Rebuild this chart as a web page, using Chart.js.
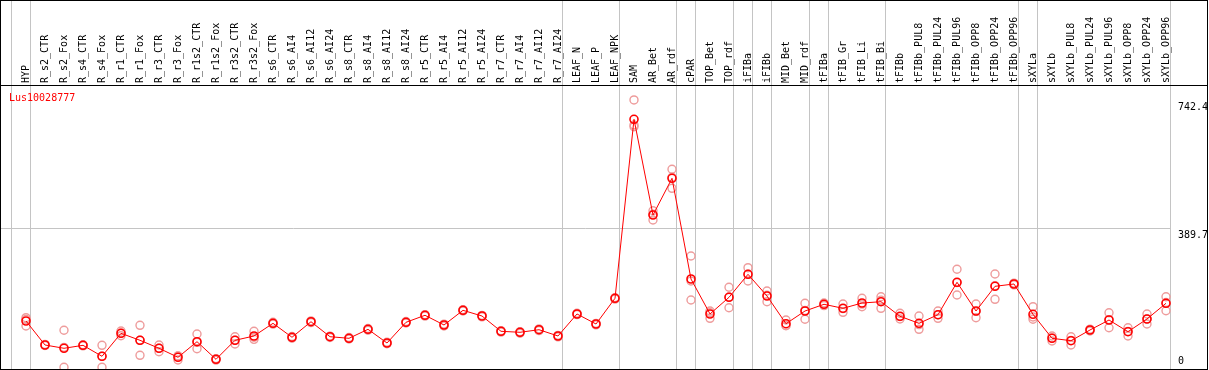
<!DOCTYPE html>
<html>
<head>
<meta charset="utf-8">
<script src="https://cdn.jsdelivr.net/npm/chart.js@4"></script>
<style>
  html, body { margin: 0; padding: 0; background: #fff; }
  #wrap { width: 1209px; height: 370px; }
</style>
</head>
<body>
<div id="wrap"><canvas id="chart" width="1209" height="370"></canvas></div>
<script>
// --- data ---
const seriesName = 'Lus10028777';

const categories = [
  'HYP', 'R_s2_CTR', 'R_s2_Fox', 'R_s4_CTR', 'R_s4_Fox', 'R_r1_CTR', 'R_r1_Fox',
  'R_r3_CTR', 'R_r3_Fox', 'R_r1s2_CTR', 'R_r1s2_Fox', 'R_r3s2_CTR', 'R_r3s2_Fox',
  'R_s6_CTR', 'R_s6_AI4', 'R_s6_AI12', 'R_s6_AI24', 'R_s8_CTR', 'R_s8_AI4',
  'R_s8_AI12', 'R_s8_AI24', 'R_r5_CTR', 'R_r5_AI4', 'R_r5_AI12', 'R_r5_AI24',
  'R_r7_CTR', 'R_r7_AI4', 'R_r7_AI12', 'R_r7_AI24', 'LEAF_N', 'LEAF_P', 'LEAF_NPK',
  'SAM', 'AR_Bet', 'AR_rdf', 'cPAR', 'TOP_Bet', 'TOP_rdf', 'iFIBa', 'iFIBb',
  'MID_Bet', 'MID_rdf', 'tFIBa', 'tFIB_Gr', 'tFIB_Li', 'tFIB_Bi', 'tFIBb',
  'tFIBb_PUL8', 'tFIBb_PUL24', 'tFIBb_PUL96', 'tFIBb_OPP8', 'tFIBb_OPP24', 'tFIBb_OPP96',
  'sXYLa', 'sXYLb', 'sXYLb_PUL8', 'sXYLb_PUL24', 'sXYLb_PUL96', 'sXYLb_OPP8',
  'sXYLb_OPP24', 'sXYLb_OPP96'
];

const meanValues = [
  133.6, 67.5, 58.4, 66.6, 36.4, 99.7, 80.4, 58.4, 33.6, 76.6, 28.1, 80.4, 92.3,
  127.2, 88.7, 131.6, 90.3, 85.9, 110.7, 73.0, 130.0, 149.3, 122.6, 163.0, 147.3,
  105.2, 102.5, 109.6, 92.3, 152.9, 125.3, 196.1,
  689.1, 425.5, 526.6, 249.2, 152.9, 198.8, 262.2, 202.4, 126.1, 161.1,
  179.6, 168.5, 183.1, 186.7, 146.5, 127.2, 150.9, 240.2, 161.1, 229.1, 235.5,
  152.0, 85.9, 79.3, 108.8, 136.3, 104.1, 139.1, 182.3
];

const rep1 = [
  142.7, 69, 108, 68, 66.6, 106, 121.7, 67.5, 37.2, 97.8, 30, 90.3, 105.2,
  130, 91, 134, 92, 88, 113, 75, 132, 151, 125, 165, 149,
  107, 104, 112, 94, 155, 127, 198,
  742.4, 437.3, 551.4, 312.6, 161.1, 226.4, 280.4, 216.2, 136.3, 182.3,
  183, 180.4, 196.1, 200.5, 154.8, 147.3, 161.1, 276, 180.4, 263, 238,
  173, 92.3, 90.3, 111, 156.4, 115.1, 152.9, 200.5
];
const rep2 = [
  119.8, 66, 6.1, 65, 6.1, 93, 39.1, 49, 26.2, 57.3, 26, 70.2, 88.7,
  125, 86, 129, 88, 84, 108, 71, 128, 147, 120, 161, 145,
  103, 100, 107, 90, 151, 123, 194,
  668.7, 411.7, 499, 191.4, 141, 170.2, 243.7, 186.7, 120.6, 138.3,
  176, 157.5, 173, 168.5, 139, 110.7, 141, 205.2, 142.7, 193.3, 233,
  138.3, 78.5, 67.5, 106, 115.1, 92.3, 125.3, 161.9
];
const rep3 = [
  138, 67.5, 61, 67, 36.5, 100, 80.4, 58.7, 37.4, 74.7, 28.3, 80.7, 83,
  126.6, 89, 131.8, 90.9, 85.7, 111.1, 73, 130, 149.9, 122.8, 163, 147.9,
  105.6, 103.5, 109.8, 92.9, 152.7, 125.9, 196.3,
  673.4, 427.5, 529.4, 243.6, 156.6, 199.8, 262.5, 204.3, 121.4, 162.7,
  179.8, 167.6, 180.2, 191.1, 145.7, 123.6, 150.6, 239.4, 160.2, 231, 235.5,
  144.7, 86.9, 80.1, 109.4, 137.4, 104.9, 139.1, 184.5
];

const yTickValues = [0, 389.7, 742.4];
// a grey separator sits before these category indices
const groupBreaks = [0, 1, 29, 32, 35, 36, 38, 39, 40, 42, 43, 46, 53, 54, 61];

// --- build datasets ---
const meanPoints = meanValues.map((v, i) => ({ x: i, y: v }));
const repPoints = [];
[rep1, rep2, rep3].forEach(rep => {
  rep.forEach((v, i) => repPoints.push({ x: i, y: v }));
});

const MONO = '"DejaVu Sans Mono", "Liberation Mono", monospace';
const SEP_OFFSET = 0.7526; // separators sit a bit left of the half-way mark

const framePlugin = {
  id: 'frame',
  beforeDraw(chart) {
    const ctx = chart.ctx;
    ctx.save();
    ctx.fillStyle = '#fff';
    ctx.fillRect(0, 0, chart.width, chart.height);
    ctx.restore();
  },
  beforeDatasetsDraw(chart) {
    const ctx = chart.ctx;
    const xs = chart.scales.x, ys = chart.scales.y;
    ctx.save();
    ctx.strokeStyle = '#c4c4c4';
    ctx.lineWidth = 1;
    // vertical group separators, full height
    groupBreaks.forEach(k => {
      const px = Math.floor(xs.getPixelForValue(k - SEP_OFFSET)) + 0.5;
      ctx.beginPath();
      ctx.moveTo(px, 0);
      ctx.lineTo(px, chart.height);
      ctx.stroke();
    });
    // horizontal grid at the middle tick
    const rightEdge = Math.floor(xs.getPixelForValue(61 - SEP_OFFSET)) + 0.5;
    const gy = Math.floor(ys.getPixelForValue(yTickValues[1])) + 0.5;
    ctx.beginPath();
    ctx.moveTo(1, gy);
    ctx.lineTo(rightEdge, gy);
    ctx.stroke();
    ctx.restore();
  },
  afterDraw(chart) {
    const ctx = chart.ctx;
    const xs = chart.scales.x, ys = chart.scales.y;
    ctx.save();
    // frame + header line
    ctx.strokeStyle = '#000';
    ctx.lineWidth = 1;
    ctx.strokeRect(0.5, 0.5, 1207, 369);
    ctx.beginPath();
    ctx.moveTo(0, 85.5);
    ctx.lineTo(1208, 85.5);
    ctx.stroke();

    // rotated category labels
    ctx.font = '10px ' + MONO;
    ctx.fillStyle = '#000';
    ctx.textAlign = 'left';
    ctx.textBaseline = 'middle';
    categories.forEach((c, i) => {
      const px = xs.getPixelForValue(i);
      ctx.save();
      ctx.translate(px + 0.5, 83);
      ctx.rotate(-Math.PI / 2);
      ctx.fillText(c, 0, 0);
      ctx.restore();
    });

    // y tick labels on the right
    const labelX = Math.floor(xs.getPixelForValue(61 - SEP_OFFSET)) + 8;
    yTickValues.forEach((v, i) => {
      const py = ys.getPixelForValue(v);
      if (i === 0) {
        ctx.textBaseline = 'bottom';
        ctx.fillText(String(v), labelX, py - 3);
      } else {
        ctx.textBaseline = 'top';
        ctx.fillText(String(v), labelX, py + 2);
      }
    });

    // series name
    ctx.fillStyle = '#ff0000';
    ctx.textBaseline = 'alphabetic';
    ctx.fillText(seriesName, 9, 101);
    ctx.restore();
  }
};

new Chart(document.getElementById('chart'), {
  type: 'line',
  data: {
    datasets: [
      {
        type: 'line',
        label: seriesName,
        data: meanPoints,
        borderColor: '#ff0000',
        borderWidth: 1,
        pointRadius: 4,
        pointBorderWidth: 1.6,
        pointBorderColor: '#ff0000',
        pointBackgroundColor: 'rgba(0,0,0,0)',
        tension: 0,
        order: 0
      },
      {
        type: 'scatter',
        label: 'replicates',
        data: repPoints,
        showLine: false,
        pointRadius: 4,
        pointBorderWidth: 1.4,
        pointBorderColor: '#ee9c9c',
        pointBackgroundColor: 'rgba(0,0,0,0)',
        order: 1
      }
    ]
  },
  options: {
    responsive: false,
    animation: false,
    layout: { autoPadding: false, padding: { left: 1, right: 2, top: 86, bottom: 0.5 } },
    plugins: { legend: { display: false }, tooltip: { enabled: false } },
    scales: {
      x: { type: 'linear', display: false, min: -25 / 19, max: -25 / 19 + 1206 / 19 },
      y: { type: 'linear', display: false, min: 0, max: 780.8 }
    }
  },
  plugins: [framePlugin]
});
</script>
</body>
</html>
